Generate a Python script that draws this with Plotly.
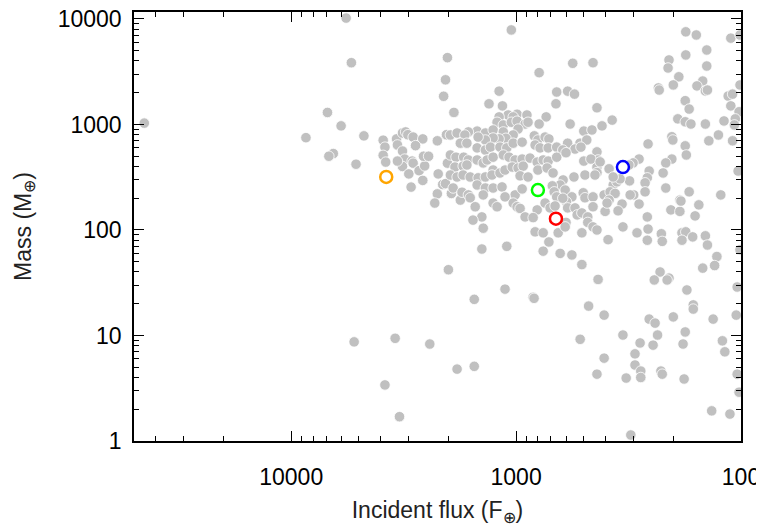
import plotly.graph_objects as go

# incident flux (F_earth) and mass (M_earth) of the known planets
flux = [
    45000, 5700, 5400, 6900, 6000, 8600, 4750, 6500, 6800, 5150, 5250, 2060, 2100, 2020,
    3900, 3830, 3900, 3800, 3400, 3370, 3200, 3100, 3030, 2870, 2600, 2800, 3200, 3130,
    2900, 2870, 3200, 3000, 2700, 2550, 2580, 2450, 2600, 2930, 2240, 2040, 2020, 2220,
    2120, 2060, 2240, 2300, 3830, 3450, 3300, 2420, 2000, 3370, 1770, 1940,
    560, 455, 790, 1190, 660, 590, 550, 1320, 1150, 665, 437, 1890, 990, 895, 1085, 1030,
    1190, 735, 1215, 1140, 1050, 990, 912, 885, 790, 575, 500, 460, 1490, 1630, 1370, 1265,
    1140, 980, 1030, 1110, 1190, 1265, 1370, 1475, 830, 800, 743, 715, 590, 520, 485, 1960,
    1830, 1690, 1770, 1655, 1490, 1370, 1300, 1180, 1100, 1030, 940, 823, 782, 720, 660, 620,
    547, 515, 437, 432, 437, 437, 1960, 1850, 1710, 1630, 1870, 1720, 1655, 1490, 1400, 1345,
    1265, 1140, 1075, 1010, 940, 867, 806, 758, 720, 660, 600, 500, 465, 1960, 1830, 1720,
    1600, 1475, 1370, 1265, 1280, 1180, 1120, 1040, 980, 930, 960, 885, 800, 728, 685, 618,
    637, 553, 494, 446, 1905, 1740, 1630, 1490, 1370, 1265, 1155, 1010, 940, 1120, 690, 677,
    660, 605, 565, 597, 503, 494, 455, 1600, 1520, 1400, 1265, 1215, 1030, 990, 960, 912,
    806, 743, 706, 671, 620, 590, 547, 535, 510, 480, 455, 1420, 1555, 1400, 840, 600, 480,
    455, 437, 823, 758, 650, 605, 510, 715, 1420, 1100, 758, 637, 565, 1050,
    1535, 1120, 840, 832, 1830, 1535,
    176, 158, 111, 101, 142, 176, 209, 211, 142, 189, 233, 231, 200, 148, 157, 144, 141, 101,
    114, 109, 111, 177, 170, 102, 191, 177, 167, 144, 119, 106, 107, 374, 415, 203, 201, 259,
    177, 139, 126, 109, 175, 203, 216, 284, 302, 315, 386, 423, 256, 261, 222, 103, 313, 267,
    216, 170, 123, 370, 356, 345, 370, 300, 311, 267, 406, 382, 187,
    363, 402, 386, 394, 338, 352, 284, 261, 205, 187, 185, 160, 154, 335, 390, 290, 259, 261,
    226, 224, 183, 176, 164, 183, 144, 141, 510, 128, 131, 148, 432, 229, 243, 209, 213, 174,
    101, 104, 476, 406, 163, 163, 133, 105, 200, 256, 241, 519, 335, 235, 281, 246, 181, 177,
    121, 118, 406, 296, 296, 279, 279, 227, 224, 437, 324, 179, 104, 102, 135, 112, 309,
]
mass = [
    1030, 10200, 3850, 1300, 970, 750, 780, 530, 500, 420, 8.7, 2650, 1850, 4300,
    710, 610, 510, 440, 730, 640, 830, 850, 800, 760, 730, 630, 560, 470,
    450, 430, 400, 340, 365, 405, 500, 500, 295, 255, 700, 800, 430, 340,
    270, 275, 220, 180, 3.4, 9.4, 1.7, 8.3, 42, 450, 192, 222,
    3800, 3850, 3100, 2070, 2030, 2070, 1940, 1570, 1500, 1570, 1440, 1300, 1250, 1230, 1230, 1180,
    1180, 1180, 1050, 990, 1050, 1075, 1010, 1050, 1010, 1010, 865, 887, 865, 850, 830, 887,
    850, 905, 795, 740, 730, 745, 713, 760, 780, 713, 760, 730, 665, 665, 713, 795,
    830, 795, 665, 665, 600, 573, 610, 610, 600, 665, 680, 639, 600, 600, 610, 573,
    585, 610, 550, 461, 395, 350, 514, 490, 490, 461, 395, 403, 413, 461, 432, 461,
    490, 514, 490, 461, 470, 480, 440, 461, 450, 490, 540, 450, 470, 332, 318, 332,
    318, 312, 318, 370, 332, 347, 370, 395, 387, 403, 326, 318, 370, 387, 347, 298,
    267, 318, 332, 332, 250, 228, 215, 267, 250, 250, 256, 215, 245, 206, 262, 230,
    206, 239, 206, 185, 225, 202, 206, 202, 166, 215, 180, 166, 180, 166, 160, 133,
    155, 180, 162, 169, 200, 162, 162, 139, 145, 133, 166, 133, 124, 104, 131, 118, 118,
    107, 100, 96, 94, 94, 107, 94, 77, 66, 70, 63, 60, 58, 7870,
    22, 27.5, 23, 22.5, 4.8, 5.1,
    7550, 7050, 6580, 7050, 5080, 4560, 4090, 3430, 3580, 2830, 2220, 2120, 2370, 2580, 2320, 2080, 2120, 2370,
    1860, 1940, 1500, 1680, 1400, 1320, 1130, 1060, 1010, 1010, 1080, 1130, 990, 1100, 970, 765, 713, 654,
    627, 700, 795, 700, 514, 470, 432, 470, 432, 413, 380, 442, 362, 312, 347, 362, 292, 280,
    250, 230, 215, 267, 286, 305, 318, 215, 215, 230, 215, 230, 192,
    222, 150, 192, 180, 176, 152, 176, 133, 155, 150, 188, 136, 173, 107, 81, 94, 102, 80,
    92, 78, 94, 96, 86, 80, 88, 72, 47, 56, 46, 43.5, 34, 40, 33.6, 35, 33.6, 27,
    65, 28.8, 19, 15.6, 19.5, 17.8, 14.3, 15.6, 15, 14.3, 13.1, 9.2, 10.1, 10.1, 8.5, 8.1, 8.3, 10.8,
    8.9, 7.0, 6.1, 6.7, 5.25, 4.6, 4.0, 4.6, 4.3, 4.3, 3.95, 3.87, 4.3, 2.9, 1.93, 1.8, 1.14,
]

# highlighted planets
hl_flux = [3780, 800, 665, 335]
hl_mass = [318, 239, 128, 395]
hl_colors = ["#FFA500", "#00FF00", "#FF0000", "#0000FF"]

font = "Liberation Sans, Arial, Helvetica, sans-serif"

fig = go.Figure()

fig.add_trace(go.Scatter(
    x=flux, y=mass,
    mode="markers",
    marker=dict(size=10.5, color="#C0C0C0", line=dict(color="white", width=0.8)),
    hoverinfo="x+y",
    showlegend=False
))

fig.add_trace(go.Scatter(
    x=hl_flux, y=hl_mass,
    mode="markers",
    marker=dict(size=12, color="white", line=dict(color=hl_colors, width=2.5)),
    showlegend=False
))

axis_common = dict(
    type="log",
    automargin=False,
    showgrid=False,
    zeroline=False,
    showline=True,
    linecolor="black",
    linewidth=1.5,
    mirror="allticks",
    ticks="inside",
    ticklen=10,
    tickwidth=1.2,
    tickcolor="black",
    dtick=1,
    tickformat="d",
    ticklabeloverflow="allow",
    tickfont=dict(family=font, size=23, color="black"),
    minor=dict(ticks="inside", ticklen=5, tickwidth=1.2, tickcolor="black", dtick="D1", showgrid=False),
)

fig.update_xaxes(
    range=[4.699, 2],
    title=dict(text="Incident flux (F<sub>⊕</sub>)", font=dict(family=font, size=23, color="#222"), standoff=16),
    ticklabelstandoff=15,
    **axis_common
)
fig.update_yaxes(
    range=[0, 4.066],
    title=dict(text="Mass (M<sub>⊕</sub>)", font=dict(family=font, size=23, color="#222"), standoff=20),
    ticklabelstandoff=6,
    **axis_common
)

# the page body adds an 8 px offset, so the figure is made 8 px smaller to fit the window
fig.update_layout(
    width=756, height=518,
    margin=dict(l=126, r=23, t=4, b=85),
    paper_bgcolor="white",
    plot_bgcolor="white",
    font=dict(family=font, color="black"),
)

fig.write_html("out.html")
